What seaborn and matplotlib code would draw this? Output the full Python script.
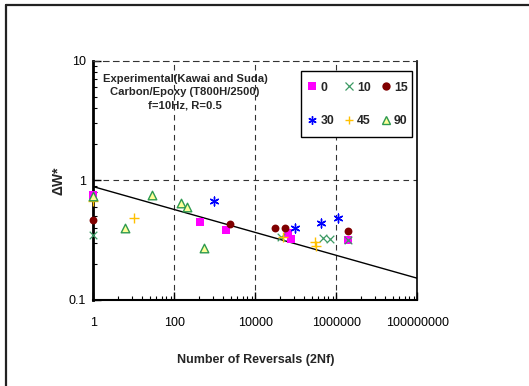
import matplotlib
matplotlib.use("Agg")
import matplotlib.pyplot as plt
import matplotlib.ticker as mticker
from matplotlib.lines import Line2D
from matplotlib.patches import Rectangle
import seaborn as sns
import pandas as pd

sns.set_theme(style="white")
plt.rcParams['font.family'] = ['Liberation Sans', 'DejaVu Sans']

# ---- data ----
labels = ["0", "10", "15", "30", "45", "90"]
x_0 = [1, 437, 1860, 63000, 74800, 1.91e6]
y_0 = [0.754, 0.45, 0.385, 0.362, 0.322, 0.318]
x_10 = [1, 43900, 479000, 698000, 1.91e6]
y_10 = [0.348, 0.337, 0.327, 0.322, 0.315]
x_15 = [1, 2340, 30100, 53200, 1.91e6]
y_15 = [0.467, 0.435, 0.40, 0.40, 0.378]
x_30 = [977, 97200, 420000, 1.08e6]
y_30 = [0.673, 0.403, 0.444, 0.489]
x_45 = [1, 10.1, 47000, 302000, 321000]
y_45 = [0.673, 0.489, 0.333, 0.308, 0.28]
x_90 = [1, 6.06, 28.6, 146, 206, 541]
y_90 = [0.74, 0.396, 0.75, 0.652, 0.604, 0.27]
fit_x = [1, 1e8]
fit_y = [0.886, 0.152]
xtick_vals = [1, 100, 10000, 1000000, 100000000]
xtick_labels = ["1", "100", "10000", "1000000", "100000000"]
ytick_vals = [0.1, 1, 10]
ytick_labels = ["0.1", "1", "10"]

series_x = [x_0, x_10, x_15, x_30, x_45, x_90]
series_y = [y_0, y_10, y_15, y_30, y_45, y_90]

styles = [
    dict(marker="s", color="#FF00FF", s=30, linewidth=0),
    dict(marker="x", color="#3C9A64", s=30, linewidth=0.9),
    dict(marker="o", color="#800000", s=32, linewidth=0),
    dict(marker=(6, 2, 0), color="#0000FF", s=40, linewidth=1.0),
    dict(marker="+", color="#FFC000", s=50, linewidth=1.0),
    dict(marker="^", color="#FFFF99", s=38, linewidth=1.0, edgecolor="#2E9A50"),
]

W, H = 529, 386
fig = plt.figure(figsize=(W / 100, H / 100), dpi=100)
fig.patch.set_facecolor("white")
ax = fig.add_axes([93.3 / W, 1 - 300 / H, (417.3 - 93.3) / W, (300 - 60.7) / H])

ax.set_xscale("log")
ax.set_yscale("log")
ax.set_xlim(1, 1e8)
ax.set_ylim(0.1, 10)

# grid (dashed)
for gx in [100, 10000, 1000000]:
    ax.axvline(gx, color="#333333", linestyle=(0, (5, 4)), linewidth=0.8, zorder=0)
ax.axhline(1, color="#333333", linestyle=(0, (5, 4)), linewidth=0.8, zorder=0)

# fit line
fit_df = pd.DataFrame({"x": fit_x, "y": fit_y})
sns.lineplot(data=fit_df, x="x", y="y", ax=ax, color="black", linewidth=1.0, zorder=2)

handles = []
for lab, xs, ys, st in zip(labels, series_x, series_y, styles):
    df = pd.DataFrame({"x": xs, "y": ys})
    kw = dict(st)
    ec = kw.pop("edgecolor", None)
    if ec is not None:
        sns.scatterplot(data=df, x="x", y="y", ax=ax, marker=kw["marker"], color=kw["color"],
                        s=kw["s"], edgecolor=ec, linewidth=kw["linewidth"], zorder=3, clip_on=False)
        handles.append(Line2D([], [], marker="^", linestyle="none", markerfacecolor=kw["color"],
                              markeredgecolor=ec, markersize=6, label=lab))
    else:
        if kw["marker"] in ("s", "o"):
            sns.scatterplot(data=df, x="x", y="y", ax=ax, marker=kw["marker"], color=kw["color"],
                            s=kw["s"], linewidth=0, zorder=3, clip_on=False)
        else:
            sns.scatterplot(data=df, x="x", y="y", ax=ax, marker=kw["marker"], color=kw["color"],
                            s=kw["s"], linewidth=kw["linewidth"], zorder=3, clip_on=False)
        handles.append(Line2D([], [], marker=kw["marker"], linestyle="none", color=kw["color"],
                              markeredgewidth=kw["linewidth"] if kw["linewidth"] else 0,
                              markersize=6, label=lab))

# spines
ax.spines["left"].set_linewidth(2.0)
ax.spines["bottom"].set_linewidth(1.5)
ax.spines["right"].set_linewidth(1.2)
ax.spines["top"].set_linewidth(0.8)
ax.spines["top"].set_linestyle((0, (5, 4)))
ax.spines["top"].set_color("#333333")
for s in ["left", "bottom", "right"]:
    ax.spines[s].set_color("black")

# ticks
x_minor = [(100 ** j) * (k ** 2) for j in range(4) for k in range(2, 10)]
ax.xaxis.set_major_locator(mticker.FixedLocator(xtick_vals))
ax.xaxis.set_major_formatter(mticker.FixedFormatter(xtick_labels))
ax.xaxis.set_minor_locator(mticker.FixedLocator(x_minor))
ax.xaxis.set_minor_formatter(mticker.NullFormatter())
ax.yaxis.set_major_locator(mticker.FixedLocator(ytick_vals))
ax.yaxis.set_major_formatter(mticker.FixedFormatter(ytick_labels))
ax.yaxis.set_minor_locator(mticker.LogLocator(base=10, subs=[2, 3, 4, 5, 6, 7, 8, 9], numticks=20))
ax.yaxis.set_minor_formatter(mticker.NullFormatter())
ax.tick_params(axis="both", which="major", direction="in", length=6, width=1.0, color="black",
               labelsize=9, labelcolor="black", pad=5.5, top=False, right=False, bottom=True, left=True)
ax.tick_params(axis="both", which="minor", direction="in", length=3, width=0.8, color="black",
               top=False, right=False, bottom=True, left=True)
ax.tick_params(axis="x", which="major", pad=12)

ax.set_xlabel("Number of Reversals (2Nf)", fontsize=9, fontweight="bold", labelpad=18)
ax.set_ylabel("ΔW*", fontsize=10, fontweight="bold", labelpad=2)

# annotation
ax.text((185 - 93.3) / 324, (300 - 74) / 239.3,
        "Experimental(Kawai and Suda)\nCarbon/Epoxy (T800H/2500)\nf=10Hz, R=0.5",
        transform=ax.transAxes, ha="center", va="top", fontsize=8.1, fontweight="bold",
        linespacing=1.39)

# legend frame drawn as a patch below the legend
ax.add_patch(Rectangle((301 / W, 1 - 137.5 / H), (411.7 - 301) / W, (137.5 - 71) / H,
                       transform=fig.transFigure, fill=True, facecolor="white",
                       edgecolor="black", linewidth=1.0, zorder=4, clip_on=False))

# legend (row-wise order: 0 10 15 / 30 45 90)
order = [0, 3, 1, 4, 2, 5]
leg = ax.legend(handles=[handles[i] for i in order], ncol=3, loc="center",
                bbox_to_anchor=(357 / W, 1 - 104.3 / H), bbox_transform=fig.transFigure,
                frameon=False, prop={"size": 8.8, "weight": "bold"}, handletextpad=0.15,
                columnspacing=0.75, labelspacing=1.75, borderpad=0, handlelength=1.0,
                borderaxespad=0)
leg.set_zorder(6)

# figure frame (left and top edges visible)
fig.add_artist(Line2D([6 / W, 6 / W], [0, 1 - 5 / H], transform=fig.transFigure,
                      color="#222222", linewidth=1.6))
fig.add_artist(Line2D([6 / W, 1], [1 - 5 / H, 1 - 5 / H], transform=fig.transFigure,
                      color="#222222", linewidth=1.6))

fig.savefig("out.png", dpi=100, facecolor="white")
